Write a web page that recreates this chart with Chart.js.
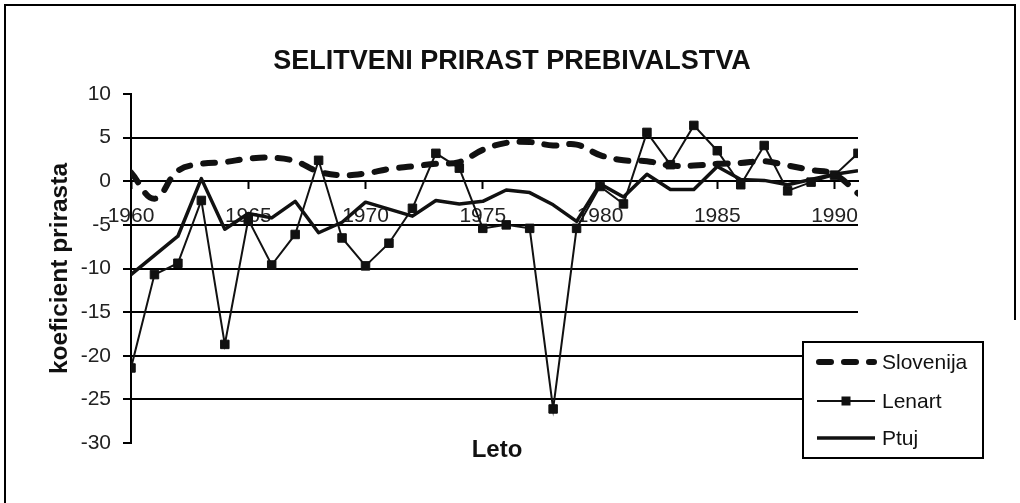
<!DOCTYPE html>
<html><head><meta charset="utf-8">
<script src="https://cdn.jsdelivr.net/npm/chart.js@4/dist/chart.umd.min.js"></script>
<style>html,body{margin:0;padding:0;background:#fff}#wrap{width:1020px;height:503px;position:relative}</style>
</head><body><div id="wrap"><canvas id="c" width="1020" height="503"></canvas></div>
<script>
const years = [1960,1961,1962,1963,1964,1965,1966,1967,1968,1969,1970,1971,1972,1973,1974,1975,1976,1977,1978,1979,1980,1981,1982,1983,1984,1985,1986,1987,1988,1989,1990,1991];
const slovenija = [1.0,-2.0,1.2,2.0,2.2,2.6,2.7,2.3,1.1,0.7,0.9,1.4,1.7,2.0,2.2,3.6,4.4,4.5,4.1,4.2,3.0,2.4,2.3,1.8,1.8,2.0,2.1,2.3,1.8,1.3,0.8,-1.4];
const lenart = [-21.4,-10.7,-9.4,-2.2,-18.7,-4.4,-9.6,-6.1,2.4,-6.5,-9.7,-7.1,-3.1,3.2,1.5,-5.4,-5.0,-5.4,-26.1,-5.4,-0.6,-2.6,5.6,1.9,6.4,3.5,-0.4,4.1,-1.1,-0.1,0.7,3.2];
const ptuj = [-10.7,-8.5,-6.3,0.3,-5.5,-3.7,-4.2,-2.3,-5.9,-4.7,-2.4,-3.2,-4.0,-2.2,-2.6,-2.3,-1.0,-1.3,-2.7,-4.6,-0.3,-1.8,0.8,-0.95,-0.95,1.7,0.2,0.1,-0.4,0.2,0.8,1.2];
const seriesNames = ['Slovenija','Lenart','Ptuj'];
const yTicks = [10,5,0,-5,-10,-15,-20,-25,-30];
const xTickYears = [1960,1965,1970,1975,1980,1985,1990];
const titleText = 'SELITVENI PRIRAST PREBIVALSTVA';
const yTitle = 'koeficient prirasta';
const xTitle = 'Leto';

const INK = '#111';
const FONT = "'Liberation Sans', Arial, sans-serif";

const framePlugin = {
  id: 'frame',
  beforeDraw(chart) {
    const c = chart.ctx;
    c.save();
    c.fillStyle = '#fff';
    c.fillRect(0, 0, chart.width, chart.height);
    c.strokeStyle = '#000';
    c.lineWidth = 2;
    c.beginPath();
    c.moveTo(5, 503); c.lineTo(5, 5); c.lineTo(1015, 5); c.lineTo(1015, 320);
    c.stroke();
    // title
    c.fillStyle = INK;
    c.font = "bold 27px " + FONT;
    c.textAlign = 'center';
    c.textBaseline = 'middle';
    c.fillText(titleText, 512, 62);
    c.restore();
  }
};

const extrasPlugin = {
  id: 'extras',
  afterDraw(chart) {
    const c = chart.ctx;
    const ds = chart.data.datasets;
    c.save();
    // x axis title
    c.fillStyle = INK;
    c.font = "bold 24px " + FONT;
    c.textAlign = 'center';
    c.textBaseline = 'middle';
    c.fillText(xTitle, 497, 450);
    // legend box
    const bx = 803, by = 342, bw = 180, bh = 116;
    c.fillStyle = '#fff';
    c.fillRect(bx, by, bw, bh);
    c.strokeStyle = '#000';
    c.lineWidth = 2;
    c.strokeRect(bx, by, bw, bh);
    const rows = [362, 401, 438];
    c.font = "21px " + FONT;
    c.textAlign = 'left';
    ds.forEach((d, i) => {
      const y = rows[i];
      c.save();
      c.strokeStyle = d.borderColor;
      c.lineWidth = d.borderWidth;
      c.lineCap = d.borderCapStyle || 'butt';
      c.setLineDash(d.borderDash || []);
      c.beginPath();
      c.moveTo(i === 0 ? 819 : 817, y);
      c.lineTo(i === 0 ? 874 : 875, y);
      c.stroke();
      c.restore();
      if (d.pointRadius > 0) {
        const s = 9;
        c.fillStyle = d.pointBackgroundColor;
        c.fillRect(846 - s / 2, y - s / 2, s, s);
      }
      c.fillStyle = INK;
      c.fillText(d.label, 882, y + 1);
    });
    c.restore();
  }
};

new Chart(document.getElementById('c'), {
  type: 'line',
  data: {
    labels: years,
    datasets: [
      {
        label: seriesNames[0], data: slovenija,
        borderColor: INK, borderWidth: 6, borderDash: [12, 13], borderCapStyle: 'round',
        pointRadius: 0, tension: 0.4, fill: false
      },
      {
        label: seriesNames[1], data: lenart,
        borderColor: INK, borderWidth: 2, pointStyle: 'rect', pointRadius: 6,
        pointBackgroundColor: INK, pointBorderColor: INK, pointBorderWidth: 1,
        tension: 0, fill: false
      },
      {
        label: seriesNames[2], data: ptuj,
        borderColor: INK, borderWidth: 3.5, pointRadius: 0, tension: 0, fill: false,
        borderJoinStyle: 'round'
      }
    ]
  },
  options: {
    responsive: false,
    animation: false,
    devicePixelRatio: 1,
    layout: { padding: { left: 43, right: 162, top: 94, bottom: 60 } },
    plugins: {
      legend: { display: false },
      tooltip: { enabled: false },
      title: { display: false }
    },
    scales: {
      x: {
        type: 'linear', min: 1960, max: 1991,
        position: { y: 0 },
        afterBuildTicks: s => { s.ticks = xTickYears.map(v => ({ value: v })); },
        ticks: { font: { family: FONT, size: 21 }, color: '#222', padding: 15, maxRotation: 0, autoSkip: false, includeBounds: false,
                 callback: v => String(v) },
        grid: { display: true, drawOnChartArea: false, drawTicks: true, tickLength: 7, tickColor: '#000', tickWidth: 2 },
        border: { display: true, color: '#000', width: 2 }
      },
      y: {
        min: -30, max: 10,
        afterBuildTicks: s => { s.ticks = yTicks.map(v => ({ value: v })); },
        afterFit: s => { s.width = 88; },
        ticks: { font: { family: FONT, size: 21 }, color: '#222', padding: 12 },
        grid: {
          color: ctx => (ctx.tick && (ctx.tick.value === 10 || ctx.tick.value === -30)) ? 'rgba(0,0,0,0)' : '#000',
          lineWidth: 2, tickLength: 8, tickColor: '#000', tickWidth: 2
        },
        border: { display: true, color: '#000', width: 2 },
        title: { display: true, text: yTitle, color: INK, font: { family: FONT, size: 24.5, weight: 'bold' }, padding: { top: 3, bottom: 4 } }
      }
    }
  },
  plugins: [framePlugin, extrasPlugin]
});
</script>
</body></html>
